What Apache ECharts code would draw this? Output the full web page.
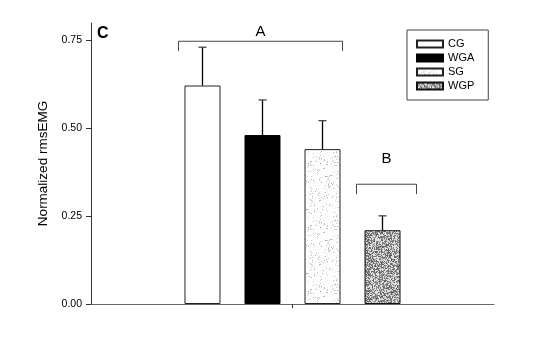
<!DOCTYPE html>
<html>
<head>
<meta charset="utf-8">
<script src="https://cdn.jsdelivr.net/npm/echarts@6/dist/echarts.min.js"></script>
<style>html,body{margin:0;padding:0;background:#fff}#c{width:541px;height:339px}</style>
</head>
<body>
<div id="c"></div>
<script>
// ---- data ----
const categories = ['all'];
const groups = ['CG', 'WGA', 'SG', 'WGP'];
const means = [0.622, 0.481, 0.441, 0.210];
const errors = [0.109, 0.100, 0.081, 0.041];
const yTicks = [0, 0.25, 0.5, 0.75];
const bracketLabels = ['A', 'B'];
const bracketFrom = [0, 3];
const bracketTo = [2, 3];
const bracketLevel = [0.748, 0.341];
const bracketLabelLevel = [0.775, 0.413];

// ---- styling helpers ----
const FONT = "'Liberation Sans', Arial, sans-serif";
const BAR_W = 36, GAP = 24;
const bracketPad = [[-24, 20], [-26, 34]];

function hash(x, y, s) {
  let h = (x * 374761393 + y * 668265263 + s * 2246822519) >>> 0;
  h = ((h ^ (h >>> 13)) * 1274126177) >>> 0;
  h = (h ^ (h >>> 16)) >>> 0;
  return h / 4294967295;
}
function makePattern(seed, density, dark, spread, light) {
  const c = document.createElement('canvas');
  c.width = 64; c.height = 64;
  const ctx = c.getContext('2d');
  const img = ctx.createImageData(64, 64);
  for (let y = 0; y < 64; y++) for (let x = 0; x < 64; x++) {
    const r = hash(x, y, seed);
    const v = r < density ? dark + Math.floor(hash(y, x, seed + 7) * spread) : light;
    const i = (y * 64 + x) * 4;
    img.data[i] = img.data[i + 1] = img.data[i + 2] = Math.min(255, v);
    img.data[i + 3] = 255;
  }
  ctx.putImageData(img, 0, 0);
  return { image: c, repeat: 'repeat' };
}
const fills = [
  '#ffffff',
  '#000000',
  makePattern(3, 0.09, 170, 50, 253),
  makePattern(11, 0.6, 80, 90, 225)
];
const borders = ['#222', '#000', '#222', '#111'];

const barSeries = groups.map((g, i) => ({
  name: g,
  type: 'bar',
  data: [means[i]],
  barWidth: BAR_W,
  barGap: (GAP / BAR_W * 100).toFixed(1) + '%',
  itemStyle: { color: fills[i], borderColor: borders[i], borderWidth: 1 },
  emphasis: { disabled: true },
  z: 3
}));

const errSeries = {
  type: 'custom',
  silent: true,
  z: 2,
  data: groups.map((g, i) => [0, means[i], errors[i], i]),
  renderItem: function (params, api) {
    const idx = api.value(3);
    const base = api.coord([api.value(0), api.value(1)]);
    const top = api.coord([api.value(0), api.value(1) + api.value(2)]);
    const x = base[0] + (idx - 1.5) * (BAR_W + GAP);
    return {
      type: 'group',
      children: [
        { type: 'line', shape: { x1: x, y1: base[1], x2: x, y2: top[1] }, style: { stroke: '#000', lineWidth: 1.3 } },
        { type: 'line', shape: { x1: x - 4, y1: top[1], x2: x + 4, y2: top[1] }, style: { stroke: '#444', lineWidth: 1.3 } }
      ]
    };
  }
};

const bracketSeries = {
  type: 'custom',
  silent: true,
  z: 4,
  data: bracketLabels.map((l, i) => [0, bracketLevel[i], bracketLabelLevel[i], bracketFrom[i], bracketTo[i], i]),
  renderItem: function (params, api) {
    const i = api.value(5);
    const c = api.coord([0, api.value(1)]);
    const lab = api.coord([0, api.value(2)]);
    const drop = api.coord([0, api.value(1) - 0.028]);
    const x1 = c[0] + (api.value(3) - 1.5) * (BAR_W + GAP) + bracketPad[i][0];
    const x2 = c[0] + (api.value(4) - 1.5) * (BAR_W + GAP) + bracketPad[i][1];
    const st = { stroke: '#444', lineWidth: 1 };
    return {
      type: 'group',
      children: [
        { type: 'polyline', shape: { points: [[x1, drop[1]], [x1, c[1]], [x2, c[1]], [x2, drop[1]]] }, style: Object.assign({ fill: null }, st) },
        { type: 'text', x: (x1 + x2) / 2, y: lab[1], style: { text: bracketLabels[i], font: '15px ' + FONT, fill: '#000', align: 'center', verticalAlign: 'middle' } }
      ]
    };
  }
};

const chart = echarts.init(document.getElementById('c'), null, { renderer: 'canvas' });
chart.setOption({
  animation: false,
  backgroundColor: '#fff',
  textStyle: { fontFamily: FONT },
  grid: { left: 91, right: 47, top: 23, bottom: 35, containLabel: false },
  legend: {
    data: groups,
    orient: 'vertical',
    left: 407,
    top: 30,
    padding: [8, 14, 8, 9],
    itemWidth: 26,
    itemHeight: 7,
    itemGap: 2,
    borderColor: '#444',
    borderWidth: 1,
    icon: 'rect',
    selectedMode: false,
    textStyle: { fontSize: 11, color: '#000', fontFamily: FONT, lineHeight: 12, padding: [0, 0, 0, 0] }
  },
  graphic: [
    { type: 'text', left: 97, top: 26, style: { text: 'C', font: 'bold 16px ' + FONT, fill: '#000' } }
  ],
  xAxis: {
    type: 'category',
    data: categories,
    axisLine: { lineStyle: { color: '#666', width: 1 } },
    axisTick: { show: true, alignWithLabel: true, length: 4, lineStyle: { color: '#333' } },
    axisLabel: { show: false },
    splitLine: { show: false }
  },
  yAxis: {
    type: 'value',
    min: 0,
    max: 0.8,
    name: 'Normalized rmsEMG',
    nameLocation: 'middle',
    nameGap: 40,
    nameTextStyle: { fontSize: 13.5, color: '#000', fontFamily: FONT },
    axisLine: { show: true, lineStyle: { color: '#333', width: 1 } },
    axisTick: { show: true, length: 5, customValues: yTicks, lineStyle: { color: '#333' } },
    axisLabel: { customValues: yTicks, fontSize: 10.5, color: '#000', margin: 9, formatter: v => v.toFixed(2) },
    splitLine: { show: false }
  },
  series: barSeries.concat([errSeries, bracketSeries])
});
</script>
</body>
</html>
